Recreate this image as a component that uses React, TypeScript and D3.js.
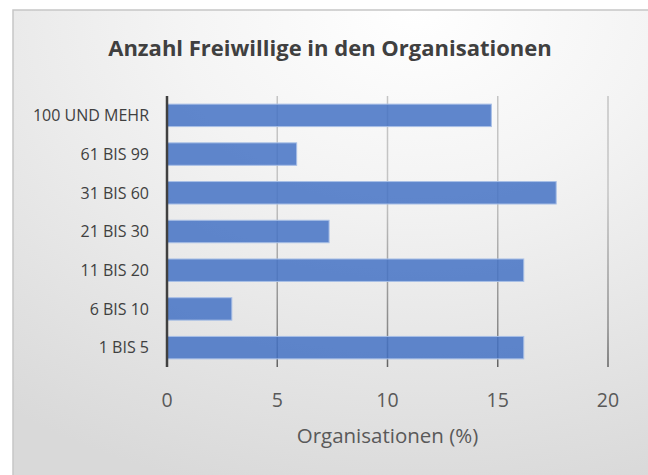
import React from 'react';
import * as d3 from 'd3';

const W = 648;
const H = 475;
const MARGIN = { top: 96, right: 40, bottom: 108, left: 167 };

const categories = ['100 UND MEHR', '61 BIS 99', '31 BIS 60', '21 BIS 30', '11 BIS 20', '6 BIS 10', '1 BIS 5'];
const values = [14.71, 5.88, 17.65, 7.35, 16.18, 2.94, 16.18];
const xTicks = [0, 5, 10, 15, 20];

const FONT = '"Open Sans", "Liberation Sans", sans-serif';

export default function App() {
  const innerW = 608 - MARGIN.left;
  const innerH = H - MARGIN.top - MARGIN.bottom;

  const x = d3.scaleLinear().domain([0, 20]).range([0, innerW]);
  const y = d3.scaleBand().domain(categories).range([0, innerH]).paddingInner(0.42).paddingOuter(0.21);

  return (
    <svg width={W} height={H} style={{ position: 'absolute', left: 0, top: 0 }}>
      <defs>
        <radialGradient id="bg" cx="0.62" cy="0" r="1.05" fx="0.62" fy="0">
          <stop offset="0" stopColor="#ffffff" />
          <stop offset="0.35" stopColor="#f4f4f4" />
          <stop offset="1" stopColor="#d9d9d9" />
        </radialGradient>
        <linearGradient id="grid" gradientUnits="userSpaceOnUse" x1="0" y1={MARGIN.top} x2="0" y2={MARGIN.top + innerH}>
          <stop offset="0" stopColor="#c4c4c4" />
          <stop offset="0.5" stopColor="#8a8a8a" />
          <stop offset="1" stopColor="#000000" />
        </linearGradient>
      </defs>

      <rect x={13} y={10} width={W} height={H} fill="url(#bg)" stroke="#c6c6c6" strokeWidth={1.5} />

      <text x={330} y={56} textAnchor="middle" fontFamily={FONT} fontWeight={700} fontSize={22} fill="#404040">
        Anzahl Freiwillige in den Organisationen
      </text>

      <g transform={`translate(${MARGIN.left},${MARGIN.top})`}>
        {/* gridlines */}
        {xTicks.slice(1).map(t => (
          <line key={t} x1={x(t)} x2={x(t)} y1={0} y2={innerH} stroke="url(#grid)" strokeWidth={1.5} />
        ))}

        {/* bars */}
        {categories.map((c, i) => (
          <rect key={c} x={0} y={y(c)} width={x(values[i])} height={y.bandwidth()}
            fill="#4472C4" fillOpacity={0.85} stroke="#a8bfe6" strokeWidth={1} />
        ))}

        {/* y axis line */}
        <line x1={0} x2={0} y1={0} y2={innerH} stroke="#404040" strokeWidth={2.5} />

        {/* category labels */}
        {categories.map(c => (
          <text key={c} x={-18} y={(y(c) ?? 0) + y.bandwidth() / 2} dy="0.36em" textAnchor="end"
            fontFamily={FONT} fontSize={16} fill="#404040">{c}</text>
        ))}

        {/* x tick labels */}
        {xTicks.map(t => (
          <text key={t} x={x(t)} y={innerH + 40} textAnchor="middle" fontFamily={FONT} fontSize={19.5} fill="#595959">{t}</text>
        ))}

        <text x={(x(0) + x(20)) / 2} y={innerH + 76} textAnchor="middle" fontFamily={FONT} fontSize={20.5} fill="#595959">
          Organisationen (%)
        </text>
      </g>
    </svg>
  );
}
